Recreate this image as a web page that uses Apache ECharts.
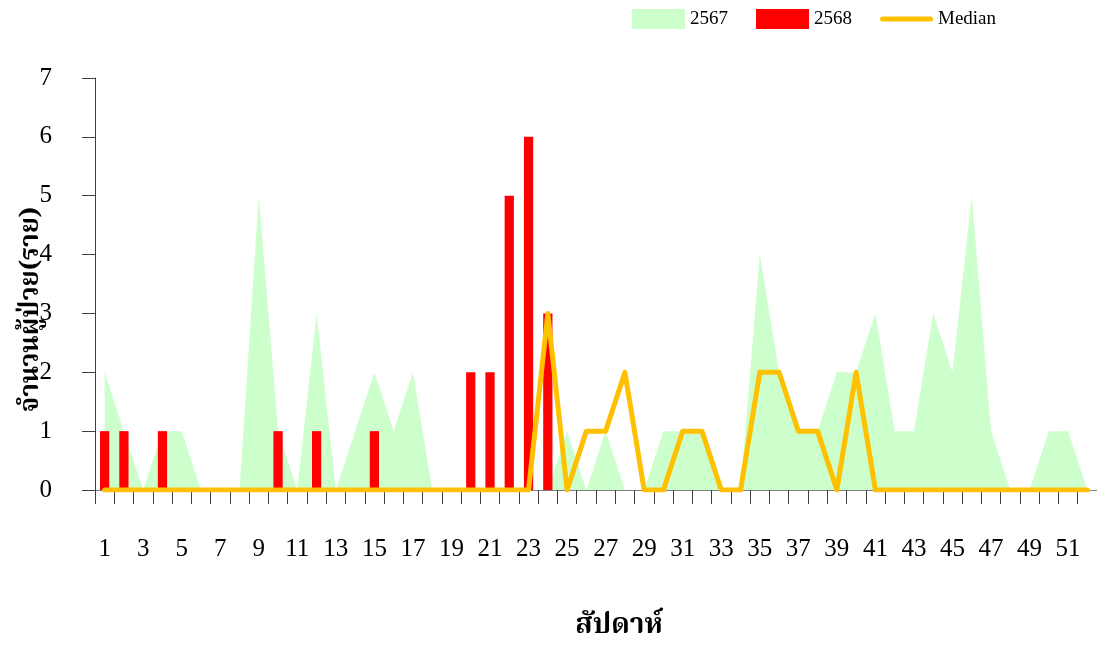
<!DOCTYPE html>
<html>
<head>
<meta charset="utf-8">
<script src="https://cdn.jsdelivr.net/npm/echarts@6/dist/echarts.min.js"></script>
<style>
html,body{margin:0;padding:0;background:#fff;}
#chart{width:1097px;height:647px;}
</style>
</head>
<body>
<div id="chart"></div>
<script>
const weeks = Array.from({length: 52}, (_, i) => String(i + 1));
const yTicks = [0, 1, 2, 3, 4, 5, 6, 7];
const v2567 = [2,1,0,1,1,0,0,0,5,1,0,3,0,1,2,1,2,0,0,0,0,0,0,0,1,0,1,0,0,1,1,1,0,0,4,2,1,1,2,2,3,1,1,3,2,5,1,0,0,1,1,0];
const v2568 = [1,1,0,1,0,0,0,0,0,1,0,1,0,0,1,0,0,0,0,2,2,5,6,3];
const median = [0,0,0,0,0,0,0,0,0,0,0,0,0,0,0,0,0,0,0,0,0,0,0,3,0,1,1,2,0,0,1,1,0,0,2,2,1,1,0,2,0,0,0,0,0,0,0,0,0,0,0,0];

const serif = '"Liberation Serif","DejaVu Serif",serif';
const thai = '"Noto Serif Thai","Noto Sans Thai","Noto Sans",sans-serif';

const chart = echarts.init(document.getElementById('chart'));
chart.setOption({
  animation: false,
  backgroundColor: '#ffffff',
  legend: {
    left: 627,
    top: 4,
    itemWidth: 53,
    itemHeight: 20,
    itemGap: 28,
    textStyle: {fontFamily: serif, fontSize: 19, color: '#000'},
    data: [
      {name: '2567', icon: 'rect'},
      {name: '2568', icon: 'rect'},
      {name: 'Median', icon: 'path://M2.5,0 L50.5,0 A2.5,2.5 0 0 1 50.5,5 L2.5,5 A2.5,2.5 0 0 1 2.5,0 Z'}
    ]
  },
  grid: {left: 95, top: 78, width: 1004, height: 413, containLabel: false},
  xAxis: {
    type: 'category',
    data: weeks,
    boundaryGap: true,
    name: 'สัปดาห์',
    nameLocation: 'middle',
    nameGap: 124,
    nameMoveOverlap: false,
    nameTextStyle: {fontFamily: thai, fontSize: 28, fontWeight: 'bold', color: '#000', padding: [0, 0, 0, 46]},
    axisLine: {lineStyle: {color: '#808080', width: 1}},
    axisTick: {show: true, interval: 0, length: 14, lineStyle: {color: '#404040', width: 1}},
    axisLabel: {interval: 1, margin: 47, fontFamily: serif, fontSize: 25, color: '#000'},
    splitLine: {show: false}
  },
  yAxis: {
    type: 'value',
    min: 0,
    max: 7,
    interval: 1,
    name: 'จำนวนผู้ป่วย(ราย)',
    nameLocation: 'middle',
    nameRotate: 90,
    nameGap: 48,
    nameMoveOverlap: false,
    nameTextStyle: {fontFamily: thai, fontSize: 26, fontWeight: 'bold', color: '#000', padding: [0, 0, 0, -51]},
    axisLine: {show: true, lineStyle: {color: '#404040', width: 1}},
    axisTick: {show: true, length: 13, lineStyle: {color: '#404040', width: 1}},
    axisLabel: {margin: 43, fontFamily: serif, fontSize: 25, color: '#000',
      formatter: v => yTicks.includes(v) ? String(v) : ''},
    splitLine: {show: false}
  },
  series: [
    {
      name: '2567',
      type: 'line',
      data: v2567,
      symbol: 'none',
      color: '#CCFFCC',
      itemStyle: {color: '#CCFFCC'},
      lineStyle: {width: 0, color: '#CCFFCC'},
      areaStyle: {color: '#CCFFCC', opacity: 1},
      z: 1
    },
    {
      name: '2568',
      type: 'bar',
      data: v2568,
      barWidth: '48%',
      itemStyle: {color: '#FF0000'},
      z: 2
    },
    {
      name: 'Median',
      type: 'line',
      data: median,
      symbol: 'none',
      color: '#FFC000',
      lineStyle: {color: '#FFC000', width: 5, cap: 'round', join: 'round'},
      itemStyle: {color: '#FFC000'},
      z: 3
    }
  ]
});
</script>
</body>
</html>
